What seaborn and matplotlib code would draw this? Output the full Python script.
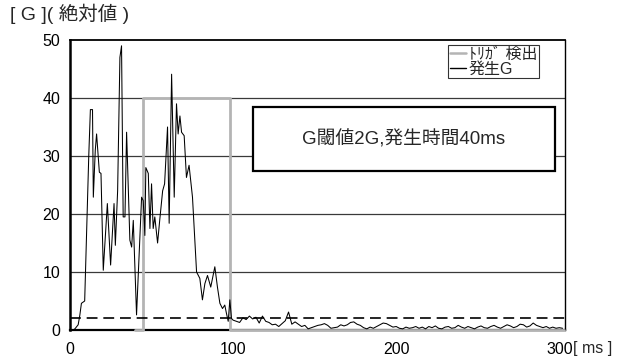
import matplotlib
matplotlib.use("Agg")
import matplotlib.pyplot as plt
from matplotlib.patches import Rectangle
import numpy as np
import pandas as pd
import seaborn as sns

# 発生G: time [ms] and absolute acceleration [G]
t_early = [0, 2, 3, 5, 6, 7, 9, 10, 11.5, 12.5, 13.8, 14.3, 15.5, 16.3, 17, 18, 19,
           20.4, 22.9, 24.9, 27, 27.8, 29.2, 30.6, 31.6, 32.6, 33.7, 34.7, 36.7, 37.8,
           38.8, 40.8, 43.9, 44.9, 45.9, 46.5, 48, 49, 50, 51, 52, 53.7, 55, 56.8, 58,
           59.8, 60.8, 62.3, 63.9, 65.3, 66.3, 67.4, 68.4, 70, 71.4, 73, 75.1, 77.6,
           79.6, 81.2, 82.7, 84.3, 86.3, 88.8, 90.4, 91.9, 93.5, 94.9, 95.9, 97, 98, 99]
g_early = [0, 0, 0.2, 0.9, 2.5, 4.6, 5.0, 15, 30, 38, 38, 22.9, 31, 33.8, 31, 27.2, 27,
           10.3, 21.8, 11.2, 21.8, 14.6, 24, 47, 49, 19.5, 19.5, 34.1, 15.5, 14.3,
           18.9, 2.6, 22.9, 22.3, 16.3, 28, 27, 17.5, 25.2, 17.5, 19.5, 15, 18.9, 24, 25.2,
           35, 18.4, 44.1, 22.9, 39, 33.8, 36.9, 34.1, 33.5, 26.3, 28.4, 22.9, 10,
           8.9, 5.2, 8, 9.4, 7.4, 10.9, 7.4, 4.6, 3.7, 4.3, 2.9, 1.5, 5.2, 2.0]
t_late = list(range(100, 304, 2))
g_late = [1.7, 1.5, 1.3, 2.1, 1.8, 2.4, 1.9, 2.2, 1.2, 2.4, 1.5, 1.3, 0.9, 1.0, 0.6,
          1.1, 1.6, 3.1, 1.0, 1.4, 1.0, 0.6, 0.8, 0.2, 0.4, 0.6, 0.8, 0.9, 1.1, 0.8,
          0.3, 0.4, 0.5, 0.9, 0.7, 0.9, 1.3, 1.4, 1.0, 0.8, 0.4, 0.2, 0.5, 0.3, 0.6,
          0.9, 1.2, 1.1, 0.8, 0.5, 0.6, 0.3, 0.2, 0.5, 0.3, 0.4, 0.6, 0.3, 0.5, 0.2,
          0.6, 0.4, 0.7, 0.3, 0.2, 0.5, 0.6, 0.3, 0.4, 0.8, 0.5, 0.3, 0.6, 0.4, 0.2,
          0.5, 0.7, 0.4, 0.3, 0.6, 0.8, 0.5, 0.3, 0.6, 0.9, 0.7, 0.4, 0.6, 1.0, 0.9,
          0.5, 0.7, 1.2, 0.8, 0.6, 0.4, 0.6, 0.3, 0.5, 0.3, 0.4, 0.3]

# トリガ検出 output
t_trig = [40, 45, 45, 98, 98, 303]
g_trig = [0, 0, 40, 40, 0, 0]

threshold = 2
x_ticks = [0, 100, 200, 300]
y_ticks = [0, 10, 20, 30, 40, 50]
label_trig = "ﾄﾘｶﾞ 検出"
label_g = "発生G"

sns.set_style("white")
plt.rcParams["font.family"] = ["Liberation Sans", "Noto Sans CJK JP", "DejaVu Sans"]

df_g = pd.DataFrame({"t": t_early + t_late, "g": g_early + g_late})
df_trig = pd.DataFrame({"t": t_trig, "g": g_trig})

fig = plt.figure(figsize=(6.22, 3.58), dpi=100)
ax = fig.add_axes([70 / 622, 1 - 330 / 358, 495 / 622, 290 / 358])

for y in y_ticks[1:-1]:
    ax.axhline(y, color="#3a3a3a", lw=0.9, zorder=1)

sns.lineplot(data=df_trig, x="t", y="g", ax=ax, color="#b4b4b4", lw=2.0,
             estimator=None, sort=False, label=label_trig, zorder=2.6, clip_on=False)
sns.lineplot(data=df_g, x="t", y="g", ax=ax, color="black", lw=0.75,
             estimator=None, sort=False, label=label_g, zorder=2.7)
ax.plot([0, 303.5], [threshold, threshold], color="black", lw=1.2,
        dashes=(6.5, 3.5), zorder=2.65)

ax.set_xlim(0, 303.5)
ax.set_ylim(0, 50)
ax.set_xticks(x_ticks)
ax.set_xticks(np.arange(0, 301, 10), minor=True)
ax.set_yticks(y_ticks)
ax.tick_params(axis="x", which="both", direction="in", length=4, width=0.9,
               pad=9, labelsize=11.5, colors="black")
ax.tick_params(axis="y", which="major", direction="out", length=3, width=0.9,
               pad=4, labelsize=11.5, colors="black")
ax.set_xlabel("")
ax.set_ylabel("")

for side, w in (("left", 1.8), ("bottom", 1.6), ("top", 1.3), ("right", 1.0)):
    ax.spines[side].set_visible(True)
    ax.spines[side].set_color("black")
    ax.spines[side].set_linewidth(w)

leg = ax.legend(loc="upper left", bbox_to_anchor=(378 / 495, 285 / 290),
                fontsize=11.5, frameon=True, fancybox=False, edgecolor="black",
                handlelength=1.0, handletextpad=0.2, labelspacing=0.0,
                borderpad=0.1, borderaxespad=0.0)
leg.get_frame().set_linewidth(0.8)
for line in leg.get_lines():
    line.set_linewidth(1.8 if line.get_label() == label_trig else 1.0)

box = Rectangle((183 / 495, 159 / 290), 302 / 495, 64 / 290, transform=ax.transAxes,
                facecolor="white", edgecolor="black", lw=1.6, zorder=4)
ax.add_patch(box)
ax.text(334 / 495, 191 / 290, "G閾値2G,発生時間40ms", transform=ax.transAxes,
        ha="center", va="center", fontsize=13.5, zorder=5)

fig.text(10 / 622, 1 - 14 / 358, "[ G ]( 絶対値 )", ha="left", va="center", fontsize=14)
fig.text(573 / 622, 1 - 349 / 358, "[ ms ]", ha="left", va="center", fontsize=11.5)

fig.savefig("out.png", dpi=100)
